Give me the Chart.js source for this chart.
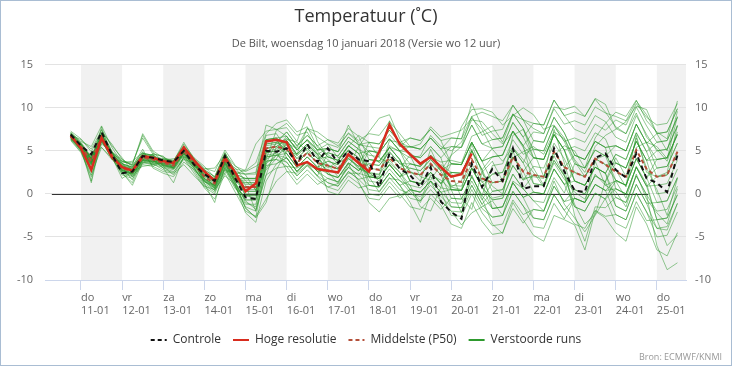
<!DOCTYPE html>
<html><head><meta charset="utf-8">
<script src="https://cdn.jsdelivr.net/npm/chart.js@4.4.0/dist/chart.umd.min.js"></script>
<style>html,body{margin:0;padding:0;background:#fff;}canvas{display:block;}</style>
</head><body>
<canvas id="c" width="732" height="366"></canvas>
<script>
// time axis: hours relative to 11-01 00:00 (6-hourly, 10-01 18h .. 25-01 12h)
const hours = [-6,0,6,12,18,24,30,36,42,48,54,60,66,72,78,84,90,96,102,108,114,120,126,132,138,144,150,156,162,168,174,180,186,192,198,204,210,216,222,228,234,240,246,252,258,264,270,276,282,288,294,300,306,312,318,324,330,336,342,348];
const dayTicks = [0,24,48,72,96,120,144,168,192,216,240,264,288,312,336];
const dayNames = ['do','vr','za','zo','ma','di','wo','do','vr','za','zo','ma','di','wo','do'];
const dayDates = ['11-01','12-01','13-01','14-01','15-01','16-01','17-01','18-01','19-01','20-01','21-01','22-01','23-01','24-01','25-01'];
const bandStarts = [0,48,96,144,192,240,288,336];
const yTicks = [-10,-5,0,5,10,15];

const controle = [6.9, 5.6,4.6,7.2,4.6, 2.4,2.6,4.4,4.2, 3.9,3.7,5.0,3.4, 2.3,1.5,4.4,1.8, -0.4,-0.6,5.0,4.9, 5.3,3.5,5.8,3.7, 5.3,3.6,5.0,4.0, 3.8,0.8,4.7,2.9, 2.2,0.8,3.1,-0.9, -2.1,-2.9,3.5,0.8, 2.9,1.5,5.3,0.6, 0.9,0.9,5.3,2.6, 0.4,0.2,4.2,4.7, 2.8,1.9,4.7,1.8, 1.3,0.2,4.5];
const hogeResolutie = [6.8, 5.3,2.8,6.5,4.3, 3.1,2.7,4.4,4.2, 3.8,3.6,5.4,3.9, 2.6,1.5,4.2,2.5, 0.3,1.2,6.1,6.3, 6.0,3.3,3.7,2.9, 2.7,2.5,4.6,3.6, 2.6,4.9,8.0,5.8, 4.6,3.5,4.3,3.1, 2.0,2.3,4.7];
const middelste = [6.7, 5.5,3.8,6.6,4.5, 3.0,2.6,4.2,4.0, 3.6,3.3,5.0,3.5, 2.0,1.2,4.0,1.8, 0.8,0.8,5.3,5.5, 5.2,3.6,4.8,3.6, 3.3,2.9,4.6,3.7, 3.0,2.8,4.2,3.0, 2.5,2.2,3.5,2.2, 1.5,1.4,4.0,1.8, 1.3,1.5,4.3,2.6, 2.2,2.0,4.9,3.1, 2.5,2.0,4.1,3.4, 2.6,2.0,5.1,2.9, 2.0,2.2,4.9];

const run01 = [6.9, 5.8,4.1,6.9,4.8, 2.7,2.3,3.9,3.7, 4.1,3.8,5.5,4.0, 2.5,1.7,4.5,2.3, 1.8,1.8,6.3,6.5, 6.7,5.1,6.3,5.1, 5.3,4.9,6.6,5.7, 6.0,5.8,7.4,6.0, 6.5,6.2,7.5,6.2, 6.5,6.4,9.0,6.8, 7.3,7.5,10.3,8.6, 8.2,8.0,10.9,9.1, 7.5,7.0,9.1,8.4, 6.6,6.0,9.1,6.9, 5.0,5.2,7.9];
const run02 = [6.4, 5.1,3.4,6.2,4.1, 2.4,2.0,3.6,3.4, 3.1,2.8,4.5,3.0, 1.0,0.2,3.0,0.8, -1.2,-1.2,3.3,3.5, 4.2,2.6,3.8,2.6, 1.8,1.4,3.1,2.2, 1.0,0.8,2.4,1.0, -0.5,-0.8,0.5,-0.8, -2.0,-2.1,0.5,-1.7, -2.7,-2.5,0.3,-1.4, -2.8,-3.0,-0.1,-1.9, -3.5,-4.0,-1.9,-2.6, -2.4,-3.0,0.1,-2.1, -5.0,-4.8,-2.1];
const run03 = [6.7, 5.3,1.5,7.0,4.7, 3.5,3.1,4.7,4.5, 3.3,3.0,4.7,3.2, 2.3,1.5,4.3,2.1, -0.2,-0.5,4.0,4.8, 5.7,4.1,5.3,4.1, 4.3,3.9,5.6,4.7, 5.0,4.8,6.4,5.0, 3.5,3.2,4.5,3.2, 0.5,0.4,3.0,0.8, -0.7,-0.5,2.3,0.6, 2.2,2.0,4.9,3.1, 4.5,4.0,6.1,5.4, 5.6,5.0,8.1,5.9, 3.0,3.2,5.9];
const run04 = [6.5, 5.0,3.3,7.8,4.0, 3.8,3.4,6.8,4.8, 3.8,3.5,5.2,3.7, 1.5,0.7,3.5,1.3, -1.7,-2.7,3.5,6.0, 7.2,5.6,6.8,5.6, 6.3,5.9,7.6,6.7, 4.0,3.8,5.4,4.0, 1.5,1.2,2.5,1.2, 3.5,3.4,6.0,3.8, 5.3,5.5,8.3,6.6, 4.2,4.0,6.9,5.1, 1.5,1.0,3.1,2.4, -0.4,-1.0,2.1,-0.1, -2.0,-1.8,0.9];
const run05 = [7.0, 6.0,4.3,7.1,5.0, 2.5,1.0,3.7,3.5, 2.8,2.5,4.2,2.7, 0.8,0.0,2.8,0.6, -0.2,-0.2,4.3,4.5, 3.7,2.1,3.3,2.1, 1.3,0.9,2.6,1.7, 2.0,1.8,3.4,2.0, 2.5,2.2,3.5,2.2, 2.5,2.4,5.0,2.8, 4.3,4.5,7.3,5.6, 7.2,7.0,9.9,8.1, 8.5,8.0,10.1,9.4, 9.0,8.5,10.8,9.2, 7.0,7.2,9.9];
const run06 = [6.6, 5.2,1.3,6.4,4.3, 2.2,1.8,3.4,3.2, 3.9,3.6,5.3,3.8, 1.2,-1.0,3.2,1.0, -2.2,-3.3,1.5,3.5, 4.2,2.6,3.8,2.6, 3.3,2.9,4.6,3.7, 0.0,-0.2,1.4,0.0, -1.5,-1.8,-0.5,-1.8, -0.5,-0.6,2.0,-0.2, -1.7,-1.5,1.3,-0.4, 0.2,0.0,2.9,1.1, 2.5,2.0,4.1,3.4, 3.6,3.0,6.1,3.9, 0.0,0.2,2.9];
const run07 = [7.1, 5.8,4.1,6.9,4.8, 3.3,2.9,4.5,4.3, 4.1,3.8,6.0,4.0, 2.8,2.0,4.8,2.6, 2.3,2.5,8.0,7.5, 7.7,6.1,9.3,6.1, 4.3,3.9,5.6,4.7, 2.0,1.8,3.4,2.0, 0.5,0.2,1.5,0.2, -2.5,-2.6,0.0,-2.2, -3.7,-3.5,-0.7,-2.4, -1.8,-2.0,0.9,-0.9, -0.5,-1.0,1.1,0.4, 0.6,0.0,3.1,0.9, 2.0,2.2,4.9];
const run08 = [6.7, 5.2,3.5,6.3,4.2, 3.2,2.8,4.4,4.2, 3.4,3.1,4.8,3.3, 2.3,1.5,4.3,2.1, 1.3,1.3,5.8,6.0, 5.2,3.6,4.8,3.6, 2.8,2.4,4.1,3.2, 3.5,3.3,4.9,3.5, 3.5,3.2,4.5,3.2, 0.8,0.5,5.2,1.5, -0.5,-0.2,5.0,1.8, 2.0,1.8,7.5,3.6, -0.5,-1.0,3.8,1.0, 1.5,1.0,6.8,2.5, 2.0,2.5,8.0];
const run09 = [6.3, 5.3,3.6,6.4,4.3, 1.8,2.6,4.2,4.0, 3.0,1.3,4.4,2.9, 1.5,0.7,3.5,1.3, -0.7,-0.7,3.8,4.0, 3.2,1.6,2.8,1.6, 0.8,0.4,2.1,1.2, -0.5,-0.7,0.9,-0.5, 0.5,0.2,1.5,0.2, 0.5,0.4,3.0,0.8, 2.3,2.5,5.3,3.6, 1.2,1.0,3.9,2.1, -1.5,-2.0,0.1,-0.6, -3.4,-4.0,-0.9,-3.1, -3.0,-2.8,-0.1];
const run10 = [7.2, 5.9,4.2,7.5,4.9, 3.5,3.1,4.7,4.5, 3.6,3.3,5.0,3.5, 2.5,1.7,4.5,2.3, 2.8,5.8,7.3,7.5, 6.7,5.1,6.3,5.1, 5.8,5.4,7.1,6.2, 7.0,6.8,8.4,7.0, 5.5,5.2,6.5,5.2, 3.5,3.4,6.0,3.8, 1.3,1.5,4.3,2.6, 0.2,0.0,2.9,1.1, 1.5,1.0,3.1,2.4, 4.6,4.0,7.1,4.9, 6.0,6.2,8.9];
const run11 = [6.5, 5.6,3.9,6.7,4.6, 2.7,2.3,3.9,3.7, 4.0,3.7,5.4,3.9, 1.7,0.9,3.7,1.5, 0.3,0.3,4.8,5.0, 6.2,4.6,5.8,4.6, 2.3,1.9,3.6,2.7, 5.0,4.8,6.4,5.0, 2.5,2.2,3.5,2.2, -0.5,-0.6,2.0,-0.2, 3.3,3.5,6.3,4.6, 5.2,5.0,7.9,6.1, 3.5,3.0,5.1,4.4, 1.6,1.0,4.1,1.9, -1.0,-0.8,1.9];
const run12 = [6.8, 5.3,3.6,6.4,4.3, 2.8,2.4,4.0,3.8, 3.2,2.9,4.6,3.1, 1.2,0.4,3.2,1.0, -1.5,-2.0,3.0,4.5, 4.7,3.1,4.3,3.1, 3.8,3.4,5.1,4.2, 1.0,0.8,2.4,1.0, -1.0,-3.3,0.0,-1.3, -3.5,-4.0,-1.0,-3.2, -4.7,-4.5,-1.7,-3.4, -1.8,-2.0,0.9,-0.9, 0.5,0.0,2.1,1.4, -1.4,-2.0,1.1,-1.1, -4.0,-4.2,-1.1];
const run13 = [6.9, 5.8,4.1,6.9,4.8, 3.8,3.4,7.0,5.0, 4.2,3.9,5.6,4.1, 2.0,1.2,4.0,1.8, 1.8,1.8,6.3,6.5, 5.7,4.1,5.3,4.1, 4.8,4.4,6.1,5.2, 3.0,2.8,4.4,3.0, 4.5,4.2,5.5,4.2, 5.5,5.4,8.0,5.8, 6.3,6.5,9.3,7.6, 5.2,5.0,7.9,6.1, 6.5,6.0,8.1,7.4, 8.6,8.0,10.5,8.9, 8.0,8.2,10.5];
const run14 = [6.6, 5.5,3.8,6.6,4.5, 2.5,2.1,3.7,3.5, 3.3,3.0,4.7,3.2, 2.8,2.0,4.8,2.6, 0.3,0.3,4.8,5.0, 2.7,1.1,2.3,1.1, 1.8,1.4,3.1,2.2, 4.0,3.8,5.4,4.0, 1.5,1.2,2.5,1.2, 2.5,2.4,5.0,2.8, -1.7,-1.5,1.3,-0.4, -2.8,-3.0,-0.1,-1.9, -0.5,-1.0,1.1,0.4, 1.6,1.0,4.1,1.9, 3.0,3.2,5.9];
const run15 = [7.0, 5.7,4.0,6.8,4.7, 3.2,2.8,4.4,4.2, 3.8,3.5,5.2,3.7, 1.8,1.0,3.8,1.6, 0.8,0.8,5.3,5.5, 6.2,4.6,5.8,4.6, 3.3,2.9,4.6,3.7, 2.0,1.8,3.4,2.0, 3.0,2.7,4.0,2.7, 4.5,5.5,9.0,9.5, 9.0,8.5,10.3,8.6, 6.2,6.0,8.9,7.1, 4.5,4.0,6.1,5.4, 5.6,5.0,8.1,5.9, 7.0,7.2,9.9];
const run16 = [6.4, 5.2,3.5,6.3,4.2, 2.8,2.4,4.0,3.8, 3.4,3.1,4.8,3.3, 2.2,1.4,4.2,2.0, -0.2,-0.2,4.3,4.5, 5.2,3.6,4.8,3.6, 0.3,-0.1,1.6,0.7, 1.0,0.8,2.4,1.0, 1.5,1.2,2.5,1.2, -1.5,-1.6,1.0,-1.2, 0.3,0.5,3.3,1.6, 2.2,2.0,4.9,3.1, -2.5,-5.5,-1.5,-1.6, -0.4,-1.0,2.1,-0.1, -6.0,-8.8,-8.0];
const run17 = [6.8, 5.6,3.9,6.7,4.6, 3.5,3.1,4.7,4.5, 3.9,3.6,5.3,3.8, 2.5,1.7,4.5,2.3, 1.8,1.8,6.3,6.5, 4.2,2.6,3.8,2.6, 2.8,2.4,4.1,3.2, 6.0,5.8,7.4,6.0, 4.5,4.2,5.5,4.2, 0.5,0.4,3.0,0.8, -0.7,-0.5,2.3,0.6, -0.8,-1.0,1.9,0.1, 3.5,3.0,5.1,4.4, 5.6,5.0,8.1,5.9, 4.0,4.2,6.9];
const run18 = [6.5, 5.4,3.7,6.5,4.4, 2.6,2.2,3.8,3.6, 3.5,3.2,4.9,3.4, 1.7,0.9,3.7,1.5, 1.3,1.3,5.8,6.0, 7.2,5.6,6.8,5.6, 4.3,3.9,5.6,4.7, 2.5,2.3,3.9,2.5, 0.5,0.2,1.5,0.2, -1.0,-1.1,1.5,-0.7, 1.3,1.5,4.3,2.6, 4.2,4.0,6.9,5.1, 1.5,1.0,3.1,2.4, -1.4,-2.0,1.1,-1.1, -1.0,-0.8,1.9];
const run19 = [6.7, 5.4,3.7,6.5,4.4, 3.3,2.9,4.5,4.3, 3.7,3.4,5.1,3.6, 1.4,0.6,3.4,1.2, -0.7,-0.7,3.8,4.0, 3.7,2.1,3.3,2.1, 4.8,4.4,6.1,5.2, 4.5,4.3,8.5,5.5, 5.5,5.2,6.5,5.2, 6.5,6.4,10.5,7.8, 6.3,6.5,9.3,7.6, 4.2,4.0,6.9,5.1, 5.5,5.0,7.1,6.4, 3.6,3.0,6.1,3.9, 4.0,4.2,6.9];
const run20 = [6.9, 5.5,3.8,6.6,4.5, 2.8,2.4,4.0,3.8, 4.0,3.7,5.4,3.9, 1.8,1.0,3.8,1.6, 0.8,0.8,5.3,5.5, 4.7,3.1,4.3,3.1, 3.8,3.4,5.1,4.2, 1.5,1.3,2.9,1.5, 1.0,0.7,2.0,0.7, 0.5,0.4,3.0,0.8, -1.7,-1.5,1.3,-0.4, 0.2,0.0,2.9,1.1, -1.5,-2.0,0.1,-0.6, 0.6,0.0,3.1,0.9, 1.0,1.2,3.9];
const run21 = [6.4, 5.7,4.0,6.8,4.7, 2.9,2.5,4.1,3.9, 3.5,3.2,4.9,3.4, 2.4,1.6,4.4,2.2, 0.0,0.0,4.5,4.7, 6.0,4.4,5.6,4.4, 2.3,1.9,3.6,2.7, 3.5,3.3,4.9,3.5, 3.0,2.7,4.0,2.7, 3.5,3.4,6.0,3.8, 4.3,4.5,7.3,5.6, 1.2,1.0,3.9,2.1, 0.5,0.0,2.1,1.4, 3.6,3.0,6.1,3.9, 5.0,5.2,7.9];
const run22 = [6.8, 5.1,3.4,6.2,4.1, 3.1,2.7,4.3,4.1, 3.8,3.5,5.2,3.7, 2.1,1.3,4.1,1.9, 1.1,1.1,5.6,5.8, 6.2,4.6,5.8,4.6, 5.3,4.9,8.0,5.7, 2.0,1.8,3.4,2.0, 3.5,3.2,4.5,3.2, 1.0,0.9,3.5,1.3, 2.3,2.5,5.3,3.6, 6.2,6.0,8.9,7.1, 4.5,4.0,6.1,5.4, 0.6,0.0,3.1,0.9, -3.0,-2.8,-0.1];
const run23 = [6.6, 5.8,4.1,6.9,4.8, 3.0,2.6,4.2,4.0, 3.3,3.0,4.7,3.2, 1.6,0.8,3.6,1.4, -1.0,-1.5,3.5,4.5, 4.2,2.6,3.8,2.6, 1.3,0.9,2.6,1.7, 0.5,0.3,1.9,0.5, 0.0,-0.3,1.0,-0.3, -1.5,-1.6,1.0,-1.2, -2.7,-2.5,0.3,-1.4, -3.8,-4.0,-1.1,-2.9, -0.5,-1.0,1.1,0.4, -2.4,-3.0,0.1,-2.1, -4.0,-3.8,-1.1];
const run24 = [6.9, 5.7,4.0,6.8,4.7, 3.1,2.7,4.3,4.1, 3.6,3.3,5.0,3.5, 2.6,1.8,4.6,2.4, 2.3,2.3,6.8,7.0, 5.2,3.6,4.8,3.6, 3.3,2.9,4.6,3.7, 5.0,4.8,6.4,5.0, 5.5,5.2,6.5,5.2, 5.5,5.4,8.0,5.8, 5.3,5.5,8.3,6.6, 8.2,8.0,10.9,9.1, 9.5,9.0,11.1,10.4, 7.6,7.0,10.1,7.9, 6.0,6.2,8.9];
const run25 = [6.7, 5.5,3.8,6.6,4.5, 2.7,2.3,3.9,3.7, 3.9,3.6,5.3,3.8, 1.8,1.0,3.8,1.6, 1.6,1.6,6.1,6.3, 4.7,3.1,4.3,3.1, 2.3,1.9,3.6,2.7, 4.0,3.8,5.4,4.0, 1.5,1.2,2.5,1.2, 2.5,2.4,5.0,2.8, 0.3,0.5,3.3,1.6, 3.2,3.0,5.9,4.1, 1.5,1.0,3.1,2.4, 4.6,4.0,7.1,4.9, 2.0,2.2,4.9];
const run26 = [7.0, 5.3,3.6,6.4,4.3, 3.4,3.0,4.6,4.4, 3.4,3.1,4.8,3.3, 2.2,1.4,4.2,2.0, 0.5,0.5,5.0,5.2, 6.7,5.1,6.3,5.1, 5.3,4.9,6.6,5.7, 5.5,5.3,6.9,5.5, 6.5,6.2,7.5,6.2, 3.5,3.4,6.0,3.8, 4.3,4.5,7.3,5.6, 4.2,4.0,6.9,5.1, 2.5,2.0,4.1,3.4, 1.6,1.0,4.1,1.9, 4.0,4.2,6.9];
const run27 = [6.6, 5.0,2.5,6.0,4.8, 3.8,3.6,6.5,4.6, 3.2,2.2,4.3,3.9, 2.6,0.6,2.8,2.4, 1.0,-2.0,2.2,5.5, 6.4,6.0,5.0,4.2, 3.0,3.8,5.5,6.8, 6.0,4.2,3.6,2.5, 1.0,-1.5,-2.0,0.8, 4.5,7.8,9.8,9.9, 9.5,8.0,9.1,10.0, 9.2,7.5,8.0,6.5, 4.0,2.5,5.5,6.8, 7.5,8.4,10.2,9.8, 7.0,5.0,9.6];
const run28 = [6.2, 4.8,2.0,5.8,4.9, 4.0,3.2,5.2,3.0, 2.4,2.0,3.7,2.8, 1.5,0.4,2.5,2.9, 2.6,3.2,4.0,7.4, 8.2,6.8,7.2,5.0, 3.4,2.0,3.0,5.5, 7.2,8.8,9.2,6.4, 4.5,2.0,1.6,3.4, 2.5,-0.5,-1.8,2.5, 3.8,1.5,6.8,7.5, 5.0,2.0,4.4,2.2, -1.2,-3.5,-2.4,1.5, 4.2,2.0,6.5,3.0, 0.5,-2.5,1.8];
const run29 = [6.9, 6.3,5.2,7.4,5.6, 4.2,2.6,3.2,3.4, 3.9,4.1,4.3,3.0, 1.4,1.0,3.0,0.9, -1.6,-2.8,-1.0,2.8, 5.0,4.6,7.6,6.6, 5.8,4.2,5.0,3.4, 2.2,2.0,5.6,4.9, 4.2,4.4,6.8,5.5, 5.0,6.0,8.6,8.4, 7.0,5.8,7.2,5.4, 3.0,1.0,4.5,5.6, 5.0,3.0,6.5,8.2, 9.5,9.0,10.9,8.5, 7.2,6.4,10.8];
const run30 = [6.5, 5.4,4.4,5.4,4.0, 3.6,3.8,4.8,3.2, 2.6,2.4,3.4,2.1, 0.9,0.5,2.1,1.1, -0.8,-1.8,2.2,3.0, 3.2,3.0,3.6,2.0, 0.8,1.2,3.5,1.4, -1.0,-2.1,-0.5,-0.2, 0.5,-0.8,2.2,1.6, 0.5,-2.2,2.2,-0.5, -3.5,-4.6,-1.0,-3.0, -4.8,-5.5,-2.5,-3.0, -3.6,-6.5,-2.0,-2.8, -4.5,-5.5,-1.5,-3.5, -6.5,-7.2,-4.5];
const run31 = [7.1, 6.1,5.5,7.9,5.4, 3.6,2.0,3.5,4.7, 4.3,3.6,4.6,4.1, 3.0,2.6,5.1,3.3, 2.2,0.4,2.8,4.1, 5.9,5.3,6.2,4.7, 4.0,3.0,4.2,2.9, 2.4,2.2,6.2,6.0, 5.4,5.8,7.8,6.6, 7.0,7.4,8.8,7.5, 5.2,3.8,5.4,4.0, 2.5,0.8,3.6,1.7, 0.2,-0.6,2.3,1.0, 0.3,-1.5,2.3,-0.6, -2.2,-3.5,0.6];
const run32 = [6.6, 5.9,3.0,6.0,4.7, 3.1,1.6,4.5,3.9, 3.0,2.6,4.0,3.6, 2.9,3.0,4.6,3.2, 2.7,3.6,7.0,8.2, 8.6,7.2,7.8,5.4, 4.6,3.5,4.4,3.0, 2.5,1.5,4.0,3.8, 2.7,1.5,5.2,2.6, 0.8,1.5,5.8,2.4, 0.9,0.0,4.2,4.9, 5.5,4.6,7.2,6.4, 3.8,2.0,4.0,4.5, 2.8,0.8,5.4,6.0, 5.5,4.1,9.0];
const run33 = [6.3, 4.9,2.2,5.4,4.2, 2.4,1.3,4.0,4.6, 4.4,2.9,4.1,2.4, 0.7,-0.6,2.4,0.2, -2.0,-2.6,-0.6,1.5, 2.6,2.4,3.4,2.8, 2.6,1.2,2.4,2.4, 2.0,0.2,1.8,1.6, 0.2,-1.0,1.5,-0.8, -2.0,-3.6,-2.2,-1.5, -0.8,-2.5,1.5,0.6, -0.8,-2.0,1.5,-1.2, -2.8,-4.4,-2.5,-0.5, 1.5,-0.5,3.2,1.2, -3.0,-6.0,-4.8];
const run34 = [7.3, 6.4,4.9,7.2,5.8, 4.0,3.3,4.9,3.6, 3.5,3.8,5.8,4.2, 3.2,1.9,3.9,3.0, 1.5,0.5,4.6,5.9, 6.4,5.4,7.6,7.2, 6.3,5.6,7.0,6.0, 4.9,3.6,5.4,5.0, 4.8,3.6,4.3,3.7, 3.9,3.6,6.7,7.2, 7.9,6.0,9.2,8.6, 7.6,7.0,10.1,9.8, 10.2,9.0,11.0,9.5, 7.8,7.0,9.4,6.6, 5.2,3.8,7.2];
const verstoordeRuns = [run01,run02,run03,run04,run05,run06,run07,run08,run09,run10,run11,run12,run13,run14,run15,run16,run17,run18,run19,run20,run21,run22,run23,run24,run25,run26,run27,run28,run29,run30,run31,run32,run33,run34];

const FONT = "'Open Sans', 'Liberation Sans', sans-serif";
const GREEN = 'rgba(40,150,40,0.5)';
const toPts = arr => arr.map((v, i) => ({x: hours[i], y: v}));

const datasets = [
  {label: 'Controle', data: toPts(controle), borderColor: '#111', borderWidth: 2, borderDash: [5,4]},
  {label: 'Hoge resolutie', data: toPts(hogeResolutie), borderColor: '#d82c1e', borderWidth: 2.5},
  {label: 'Middelste (P50)', data: toPts(middelste), borderColor: '#b4503a', borderWidth: 2, borderDash: [4,3]}
].concat(verstoordeRuns.map((r, k) => ({
  label: k === 0 ? 'Verstoorde runs' : '', data: toPts(r), borderColor: GREEN, borderWidth: 1
})));
datasets.forEach(d => { d.pointRadius = 0; d.tension = 0; d.fill = false; });

const legendItems = [
  {text: 'Controle', strokeStyle: '#111', lineDash: [4,3]},
  {text: 'Hoge resolutie', strokeStyle: '#d82c1e', lineDash: []},
  {text: 'Middelste (P50)', strokeStyle: '#b4503a', lineDash: [4,3]},
  {text: 'Verstoorde runs', strokeStyle: '#2e9a2e', lineDash: []}
];

const zeroLineFrom = -17, zeroLineTo = 331;

const decor = {
  id: 'decor',
  beforeDraw(chart) {
    const {ctx, chartArea: a, scales: {x}} = chart;
    ctx.save();
    ctx.fillStyle = '#f1f1f1';
    bandStarts.forEach(s => {
      const x0 = Math.max(a.left, x.getPixelForValue(s));
      const x1 = Math.min(a.right, x.getPixelForValue(s + 24));
      if (x1 > x0) ctx.fillRect(x0, a.top, x1 - x0, a.bottom - a.top);
    });
    ctx.restore();
  },
  beforeDatasetsDraw(chart) {
    const {ctx, scales: {x, y}} = chart;
    const py = Math.round(y.getPixelForValue(0)) + 0.5;
    ctx.save();
    ctx.strokeStyle = '#333'; ctx.lineWidth = 1;
    ctx.beginPath();
    ctx.moveTo(x.getPixelForValue(zeroLineFrom), py);
    ctx.lineTo(x.getPixelForValue(zeroLineTo), py);
    ctx.stroke();
    ctx.restore();
  },
  afterDraw(chart) {
    const {ctx, width, height} = chart;
    ctx.save();
    ctx.font = "9px " + FONT;
    ctx.fillStyle = '#999';
    ctx.textAlign = 'right'; ctx.textBaseline = 'middle';
    ctx.fillText('Bron: ECMWF/KNMI', width - 10, height - 9);
    ctx.strokeStyle = '#a9bdd3'; ctx.lineWidth = 1;
    ctx.strokeRect(0.5, 0.5, width - 1, height - 1);
    ctx.restore();
  }
};

new Chart(document.getElementById('c'), {
  type: 'line',
  data: {datasets},
  plugins: [decor],
  options: {
    responsive: false, animation: false, devicePixelRatio: 1,
    layout: {padding: {top: 0, bottom: 10, left: 0, right: 0}},
    plugins: {
      tooltip: {enabled: false},
      title: {display: true, text: 'Temperatuur (˚C)', color: '#333', font: {family: FONT, size: 18, weight: 'normal'}, padding: {top: 6, bottom: 4}},
      subtitle: {display: true, text: 'De Bilt, woensdag 10 januari 2018 (Versie wo 12 uur)', color: '#555', font: {family: FONT, size: 11}, padding: {top: 6, bottom: 14}},
      legend: {
        position: 'bottom',
        labels: {
          usePointStyle: true, pointStyleWidth: 16, boxHeight: 12, padding: 12,
          color: '#333', font: {family: FONT, size: 12},
          generateLabels: () => legendItems.map(it => ({
            text: it.text, strokeStyle: it.strokeStyle, fillStyle: it.strokeStyle, lineDash: it.lineDash,
            lineWidth: 2, pointStyle: 'line', hidden: false, fontColor: '#333'
          }))
        }
      }
    },
    scales: {
      x: {
        type: 'linear', min: -21, max: 353,
        afterBuildTicks: s => { s.ticks = dayTicks.map(v => ({value: v})); },
        afterFit: s => { s.height = 42; },
        ticks: {
          align: 'start', maxRotation: 0, autoSkip: false, padding: 2,
          color: '#666', font: {family: FONT, size: 11, lineHeight: 1.15},
          callback: v => { const k = dayTicks.indexOf(v); return k < 0 ? '' : [dayNames[k], dayDates[k]]; }
        },
        grid: {drawOnChartArea: false, drawTicks: true, tickLength: 10, color: '#ccd6eb'},
        border: {display: true, color: '#ccd6eb'}
      },
      y: {
        position: 'left', min: -10, max: 15,
        afterBuildTicks: s => { s.ticks = yTicks.map(v => ({value: v})); },
        afterFit: s => { s.width = 45; },
        ticks: {padding: 12, color: '#666', font: {family: FONT, size: 11}},
        grid: {color: '#e3e3e3', drawTicks: false},
        border: {display: false}
      },
      y2: {
        position: 'right', min: -10, max: 15,
        afterBuildTicks: s => { s.ticks = yTicks.map(v => ({value: v})); },
        afterFit: s => { s.width = 46; },
        ticks: {padding: 9, color: '#666', font: {family: FONT, size: 11}},
        grid: {drawOnChartArea: false, drawTicks: false},
        border: {display: false}
      }
    }
  }
});
</script>
</body></html>
